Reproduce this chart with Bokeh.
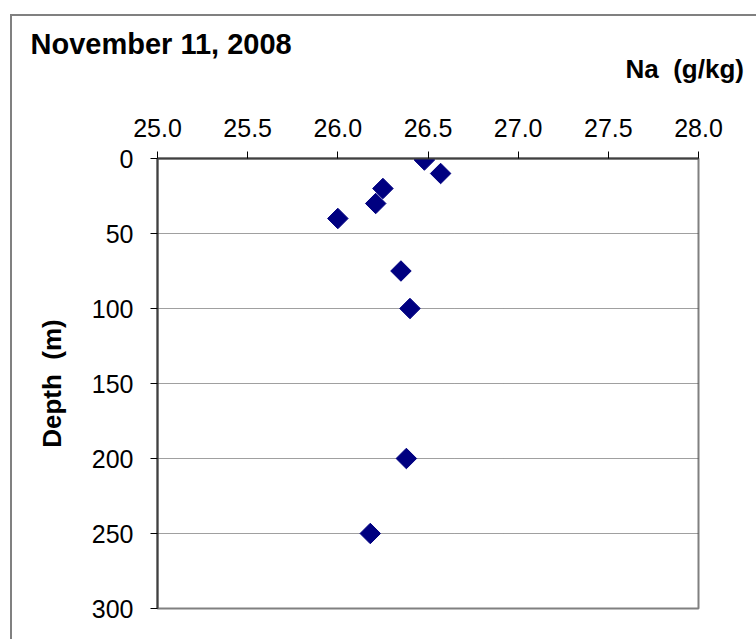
import math
from bokeh.plotting import figure
from bokeh.models import Range1d, FixedTicker, NumeralTickFormatter, Title
from bokeh.embed import file_html
from bokeh.resources import INLINE

# Data
title_text = "November 11, 2008"
x_title = "Na\u00a0 (g/kg)"
y_title = "Depth\u00a0 (m)"
na_values = [26.48, 26.57, 26.25, 26.21, 26.00, 26.35, 26.40, 26.38, 26.18]
depth_values = [1, 10, 20, 30, 40, 75, 100, 200, 250]
x_ticks = [25.0, 25.5, 26.0, 26.5, 27.0, 27.5, 28.0]
y_ticks = [0, 50, 100, 150, 200, 250, 300]

FONT = "Liberation Sans"
W, H = 756, 639

p = figure(width=W, height=H, output_backend="svg", toolbar_location=None,
           x_axis_location="above",
           x_range=Range1d(25.0, 28.0), y_range=Range1d(300, 0),
           min_border_left=157, min_border_right=58, min_border_top=158, min_border_bottom=31)
p.background_fill_color = "white"
p.border_fill_color = None
p.outline_line_color = "#808080"
p.outline_line_width = 2

# Outer chart border (left and top edges visible; right/bottom lie off-page)
p.styles = {
    "background": ("linear-gradient(#808080, #808080) 10px 14px / 2px 100% no-repeat, "
                   "linear-gradient(#808080, #808080) 10px 14px / 100% 2px no-repeat, white"),
}

# Axes
for ax in (p.xaxis[0], p.yaxis[0]):
    ax.axis_line_color = "#404040"
    ax.axis_line_width = 2
    ax.major_tick_line_color = "black"
    ax.major_tick_line_width = 1
    ax.major_tick_out = 7
    ax.major_tick_in = 0
    ax.minor_tick_line_color = None
    ax.major_label_text_font = FONT
    ax.major_label_text_font_size = "25px"
    ax.major_label_text_color = "black"

p.xaxis.ticker = FixedTicker(ticks=x_ticks)
p.xaxis.formatter = NumeralTickFormatter(format="0.0")
p.xaxis.major_label_standoff = 15
# blank spacer label to lift the titles above the axis
p.xaxis.axis_label = "\u00a0"
p.xaxis.axis_label_text_font_size = "10px"
p.xaxis.axis_label_standoff = 10

p.yaxis.ticker = FixedTicker(ticks=y_ticks)
p.yaxis.major_label_standoff = 17
p.yaxis.axis_label = y_title
p.yaxis.axis_label_text_font = FONT
p.yaxis.axis_label_text_font_style = "bold"
p.yaxis.axis_label_text_font_size = "26px"
p.yaxis.axis_label_text_color = "black"
p.yaxis.axis_label_standoff = 22

# Grid
p.xgrid.grid_line_color = None
p.ygrid.ticker = FixedTicker(ticks=y_ticks)
p.ygrid.grid_line_color = "#404040"
p.ygrid.grid_line_dash = "1 1"
p.ygrid.grid_line_width = 1

# Markers
p.scatter(na_values, depth_values, marker="square", size=14.5, angle=math.pi / 4,
          fill_color="#000080", line_color="#000080")

# Axis title (above, right side) and chart title
p.add_layout(Title(text=x_title, align="left", offset=468, standoff=15,
                   text_font=FONT, text_font_style="bold", text_font_size="26px",
                   text_color="black"), "above")
p.title.text = title_text
p.title.align = "left"
p.title.offset = -127
p.title.standoff = -30
p.title.text_font = FONT
p.title.text_font_style = "bold"
p.title.text_font_size = "29px"
p.title.text_color = "black"

open("out.html", "w").write(file_html(p, INLINE))
